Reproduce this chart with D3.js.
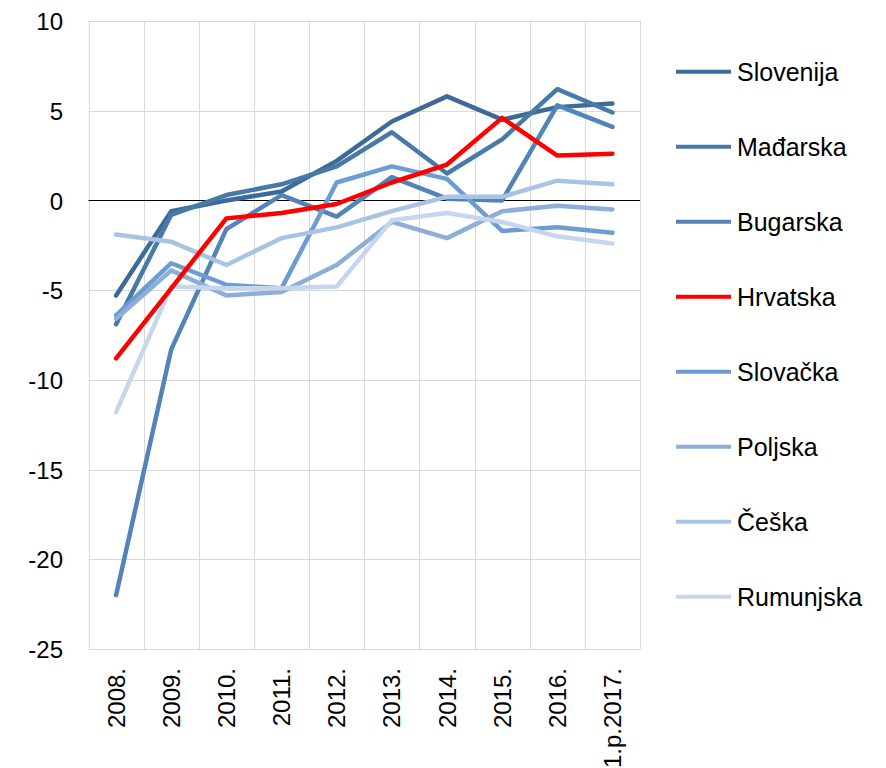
<!DOCTYPE html>
<html>
<head>
<meta charset="UTF-8">
<title>Tekući račun</title>
<script src="https://cdn.jsdelivr.net/npm/d3@7"></script>
<style>
    body { margin: 0; background: #fff; }
    svg { display: block; }
    text { font-family: "Liberation Sans", Arial, sans-serif; font-size: 24px; fill: #000; }
    .grid line { stroke: #d9d9d9; stroke-width: 1; }
    .axis path, .axis line { display: none; }
    .series { fill: none; stroke-width: 4.5; stroke-linejoin: round; stroke-linecap: round; }
</style>
</head>
<body>
<script>
    // kategorije (godine)
    var years = ["2008.", "2009.", "2010.", "2011.", "2012.", "2013.", "2014.", "2015.", "2016.", "1.p.2017."];
    var yTicks = [10, 5, 0, -5, -10, -15, -20, -25];

    var slovenija = [-5.3, -0.6, 0.0, 0.5, 2.2, 4.4, 5.8, 4.5, 5.2, 5.4];
    var madarska  = [-6.9, -0.8, 0.3, 0.9, 1.9, 3.8, 1.5, 3.4, 6.2, 4.9];
    var bugarska  = [-22.0, -8.3, -1.6, 0.3, -0.9, 1.3, 0.1, 0.0, 5.3, 4.1];
    var hrvatska  = [-8.8, -4.9, -1.0, -0.7, -0.2, 1.0, 2.0, 4.6, 2.5, 2.6];
    var slovacka  = [-6.4, -3.5, -4.7, -4.9, 1.0, 1.9, 1.2, -1.7, -1.5, -1.8];
    var poljska   = [-6.6, -3.9, -5.3, -5.1, -3.6, -1.2, -2.1, -0.6, -0.3, -0.5];
    var ceska     = [-1.9, -2.3, -3.6, -2.1, -1.5, -0.6, 0.2, 0.2, 1.1, 0.9];
    var rumunjska = [-11.8, -4.8, -4.9, -4.9, -4.8, -1.1, -0.7, -1.2, -2.0, -2.4];

    var names = ["Slovenija", "Mađarska", "Bugarska", "Hrvatska", "Slovačka", "Poljska", "Češka", "Rumunjska"];
    var colors = ["#3d6b97", "#4779a9", "#5284b8", "#ff0000", "#6b9dd3", "#8caed8", "#a9c3e3", "#c6d6ee"];

    var series = [slovenija, madarska, bugarska, hrvatska, slovacka, poljska, ceska, rumunjska]
        .map(function(v, i) { return { name: names[i], color: colors[i], values: v }; });

    var width = 886, height = 768;
    var margin = { top: 21, left: 88.5 };
    var plotW = 551.5, plotH = 628;

    var svg = d3.select("body").append("svg")
        .attr("width", width)
        .attr("height", height);

    var x = d3.scaleBand()
        .domain(years)
        .range([margin.left, margin.left + plotW]);

    var y = d3.scaleLinear()
        .domain([-25, 10])
        .range([margin.top + plotH, margin.top]);

    // mreža
    var grid = svg.append("g").attr("class", "grid");
    grid.selectAll(".h")
        .data(yTicks)
        .enter().append("line")
        .attr("x1", x.range()[0]).attr("x2", x.range()[1])
        .attr("y1", function(d) { return Math.round(y(d)) + 0.5; })
        .attr("y2", function(d) { return Math.round(y(d)) + 0.5; });
    grid.selectAll(".v")
        .data(years.concat(["end"]))
        .enter().append("line")
        .attr("x1", function(d, i) { return Math.round(x.range()[0] + i * x.step()) + 0.5; })
        .attr("x2", function(d, i) { return Math.round(x.range()[0] + i * x.step()) + 0.5; })
        .attr("y1", y(10)).attr("y2", y(-25));

    // nulta linija
    svg.append("line")
        .attr("x1", x.range()[0]).attr("x2", x.range()[1])
        .attr("y1", Math.round(y(0)) + 0.5).attr("y2", Math.round(y(0)) + 0.5)
        .attr("stroke", "#000").attr("stroke-width", 1);

    // y os (obični crtica-minus kao u izvorniku)
    svg.append("g")
        .attr("class", "axis")
        .attr("transform", "translate(63,0)")
        .call(d3.axisLeft(y).tickValues(yTicks).tickSize(0).tickPadding(0)
            .tickFormat(function(d) { return String(d); }))
        .selectAll("text")
        .style("font-size", "24px")
        .attr("dy", "0.36em");

    // x os
    var xAxis = svg.append("g")
        .attr("class", "axis")
        .attr("transform", "translate(0," + (y(-25) + 19) + ")")
        .call(d3.axisBottom(x).tickSize(0).tickPadding(0));
    xAxis.selectAll("text")
        .style("font-size", "24px")
        .attr("text-anchor", "end")
        .attr("dx", 0)
        .attr("dy", "0.36em")
        .attr("y", 0)
        .attr("transform", "rotate(-90)");

    var line = d3.line()
        .x(function(d, i) { return x(years[i]) + x.bandwidth() / 2; })
        .y(function(d) { return y(d); });

    // Hrvatska na vrhu
    var order = [0, 1, 2, 4, 5, 6, 7, 3];
    svg.selectAll(".series")
        .data(order.map(function(i) { return series[i]; }))
        .enter().append("path")
        .attr("class", "series")
        .attr("stroke", function(d) { return d.color; })
        .attr("d", function(d) { return line(d.values); });

    // legenda
    var legend = svg.selectAll(".legend")
        .data(series)
        .enter().append("g")
        .attr("class", "legend")
        .attr("transform", function(d, i) { return "translate(676," + (71.7 + i * 75) + ")"; });

    legend.append("line")
        .attr("x1", 0).attr("x2", 55)
        .attr("stroke", function(d) { return d.color; })
        .attr("stroke-width", 4);

    legend.append("text")
        .attr("x", 61)
        .attr("dy", "0.36em")
        .style("font-size", "25px")
        .text(function(d) { return d.name; });
</script>
</body>
</html>
